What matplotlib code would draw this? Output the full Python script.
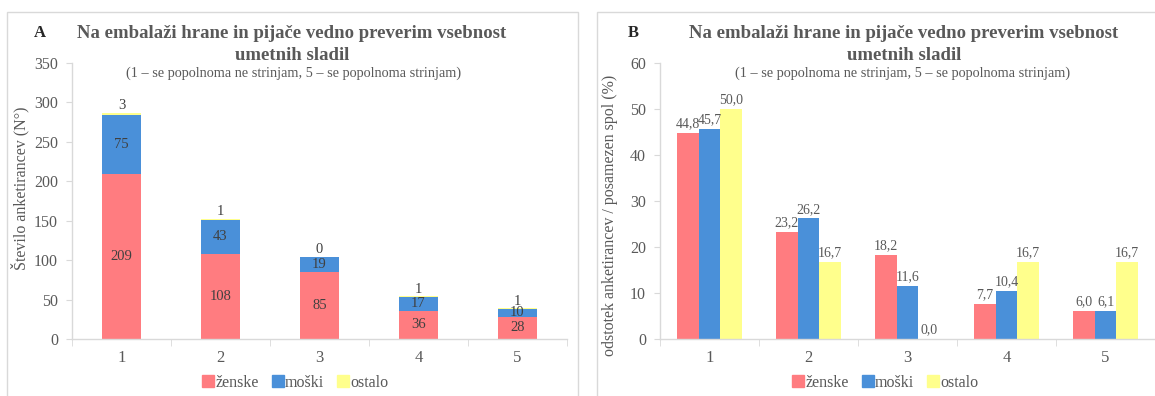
import matplotlib
matplotlib.use("Agg")
import matplotlib.pyplot as plt
import numpy as np
from matplotlib.patches import Rectangle
from matplotlib.lines import Line2D

# Response categories (Likert scale 1-5)
categories = ["1", "2", "3", "4", "5"]
series_names = ["ženske", "moški", "ostalo"]

# Counts of respondents (panel A, stacked)
count_zenske = [209, 108, 85, 36, 28]
count_moski = [75, 43, 19, 17, 10]
count_ostalo = [3, 1, 0, 1, 1]

# Share of respondents within each gender (panel B, %)
pct_zenske = [44.8, 23.2, 18.2, 7.7, 6.0]
pct_moski = [45.7, 26.2, 11.6, 10.4, 6.1]
pct_ostalo = [50.0, 16.7, 0.0, 16.7, 16.7]

title_lines = ["Na embalaži hrane in pijače vedno preverim vsebnost", "umetnih sladil"]
subtitle = "(1 – se popolnoma ne strinjam, 5 – se popolnoma strinjam)"

C_RED = "#FF7C80"
C_BLUE = "#4A90D9"
C_YEL = "#FFFF8C"
colors = [C_RED, C_BLUE, C_YEL]
TXT = "#595959"
AXC = "#D9D9D9"
SERIF = "Liberation Serif"

plt.rcParams["font.family"] = SERIF

W, H = 1155, 396
fig = plt.figure(figsize=(W / 100, H / 100), dpi=100)


def px(x, y):
    return x / W, 1 - y / H


def style_axes(ax, ymax, ystep):
    for s in ("top", "right"):
        ax.spines[s].set_visible(False)
    for s in ("left", "bottom"):
        ax.spines[s].set_color(AXC)
        ax.spines[s].set_linewidth(1.0)
    ax.set_xlim(0.5, 5.5)
    ax.set_ylim(0, ymax)
    ax.set_yticks(np.arange(0, ymax + 0.1, ystep))
    ax.set_xticks(np.arange(1, 6))
    ax.set_xticklabels(categories)
    ax.set_xticks(np.arange(0.5, 5.6, 1), minor=True)
    ax.tick_params(axis="x", which="major", length=0, pad=8, labelsize=12, labelcolor=TXT)
    ax.tick_params(axis="x", which="minor", length=5, color=AXC, direction="out")
    ax.tick_params(axis="y", length=4, color=AXC, pad=6, labelsize=11.5, labelcolor=TXT)


def panel_frame(x0, y0, x1, y1):
    fx0, fy1 = px(x0, y0)
    fx1, fy0 = px(x1, y1)
    fig.patches.append(Rectangle((fx0, fy0), fx1 - fx0, fy1 - fy0, transform=fig.transFigure,
                                 fill=False, edgecolor=AXC, linewidth=1.0, clip_on=False))


def headings(letter, lx, cx, scx):
    fig.text(*px(lx, 33), letter, fontsize=12, fontweight="bold", color="#262626",
             ha="center", va="center")
    for line, ty in zip(title_lines, (33, 55)):
        fig.text(*px(cx, ty), line, fontsize=13.5, fontweight="bold", color=TXT,
                 ha="center", va="center")
    fig.text(*px(scx, 73), subtitle, fontsize=10.3, color=TXT, ha="center", va="center")


def legend(ax, cx):
    handles = [Line2D([], [], marker="s", linestyle="none", markersize=8,
                      markerfacecolor=c, markeredgecolor=c) for c in colors]
    ax.legend(handles, series_names, loc="center", bbox_to_anchor=(px(cx, 383)),
              bbox_transform=fig.transFigure, ncol=3, frameon=False, fontsize=11.5,
              handlelength=0.6, handletextpad=0.15, columnspacing=0.9, labelcolor=TXT,
              borderaxespad=0, borderpad=0)


# Panel frames
panel_frame(7, 12, 578, 420)
panel_frame(597, 12, 1175, 420)

# ---------------- Panel A: stacked counts ----------------
axA = fig.add_axes([72 / W, 57 / H, 495 / W, 276 / H])
style_axes(axA, 350, 50)
x = np.arange(1, 6)
bw = 0.4
bottom = np.zeros(5)
for vals, c in zip([count_zenske, count_moski, count_ostalo], colors):
    axA.bar(x, vals, bw, bottom=bottom, color=c, edgecolor="none", zorder=2)
    bottom = bottom + np.array(vals)
for i in range(5):
    z, m, o = count_zenske[i], count_moski[i], count_ostalo[i]
    axA.text(x[i], z / 2, str(z), ha="center", va="center", fontsize=10.5, color="#404040")
    axA.text(x[i], z + m / 2, str(m), ha="center", va="center", fontsize=10.5, color="#404040")
    axA.annotate(str(o), (x[i], z + m + o), xytext=(0, 0.5), textcoords="offset points",
                 ha="center", va="bottom", fontsize=10.5, color="#404040")
fig.text(*px(20, 188), "Število anketirancev (N°)", rotation=90, fontsize=11.5,
         color=TXT, ha="center", va="center")
headings("A", 40, 292, 294)
legend(axA, 296)

# ---------------- Panel B: grouped percentages ----------------
axB = fig.add_axes([660 / W, 57 / H, 495 / W, 276 / H])
style_axes(axB, 60, 10)
gw = 0.22
for k, (vals, c) in enumerate(zip([pct_zenske, pct_moski, pct_ostalo], colors)):
    xs = x + (k - 1) * gw
    axB.bar(xs, vals, gw, color=c, edgecolor="none", zorder=2)
    for xi, v in zip(xs, vals):
        axB.annotate(f"{v:.1f}".replace(".", ","), (xi, v), xytext=(0, 2),
                     textcoords="offset points", ha="center", va="bottom",
                     fontsize=10, color=TXT)
fig.text(*px(610, 215), "odstotek anketirancev / posamezen spol (%)", rotation=90,
         fontsize=11.5, color=TXT, ha="center", va="center")
headings("B", 633, 904, 903)
legend(axB, 886)

fig.savefig("out.png", dpi=100)
